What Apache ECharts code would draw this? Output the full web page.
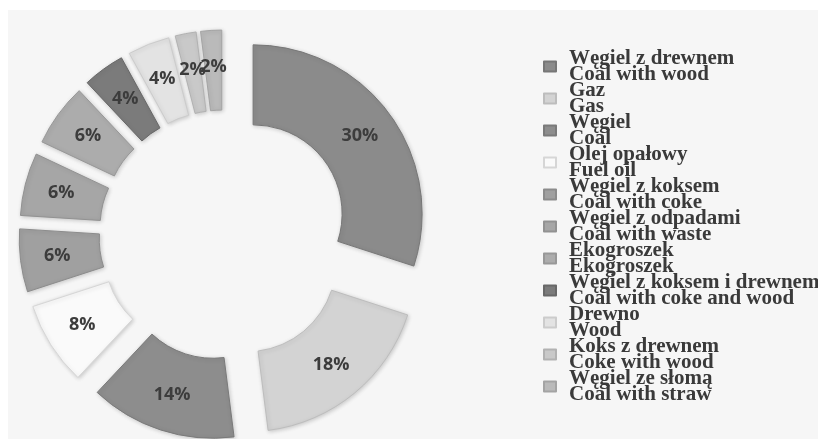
<!DOCTYPE html>
<html>
<head>
<meta charset="utf-8">
<script src="https://cdn.jsdelivr.net/npm/echarts@6/dist/echarts.min.js"></script>
<style>
html,body{margin:0;padding:0;background:#ffffff;}
#chart{width:818px;height:439px;}
</style>
</head>
<body>
<div id="chart"></div>
<script>
const categories = ['Węgiel z drewnem','Gaz','Węgiel','Olej opałowy','Węgiel z koksem','Węgiel z odpadami','Ekogroszek','Węgiel z koksem i drewnem','Drewno','Koks z drewnem','Węgiel ze słomą'];
const englishNames = ['Coal with wood','Gas','Coal','Fuel oil','Coal with coke','Coal with waste','Ekogroszek','Coal with coke and wood','Wood','Coke with wood','Coal with straw'];
const shares = [30, 18, 14, 8, 6, 6, 6, 4, 4, 2, 2];
const colors = ['#8b8b8b','#d3d3d3','#8d8d8d','#fafafa','#a0a0a0','#a6a6a6','#acacac','#7b7b7b','#e3e3e3','#c9c9c9','#bababa'];
const borders = ['#777777','#bdbdbd','#7a7a7a','#d6d6d6','#8c8c8c','#929292','#989898','#686868','#cccccc','#b2b2b2','#a4a4a4'];

const english = {};
categories.forEach((c, i) => { english[c] = englishNames[i]; });

const chart = echarts.init(document.getElementById('chart'));
chart.setOption({
  animation: false,
  backgroundColor: '#ffffff',
  graphic: [{
    type: 'rect', silent: true, z: -10,
    shape: { x: 8, y: 10, width: 810, height: 429 },
    style: { fill: '#f6f6f6' }
  }],
  legend: {
    orient: 'vertical',
    left: 543,
    top: 48,
    height: 390,
    padding: 0,
    itemWidth: 12,
    itemHeight: 10,
    itemGap: -5,
    icon: 'rect',
    selectedMode: false,
    data: categories,
    formatter: name => '{t|' + name + '}\n{t|' + english[name] + '}',
    textStyle: {
      padding: [0, 0, 0, 8],
      rich: {
        t: {
          fontFamily: 'Liberation Serif',
          fontWeight: 'bold',
          fontSize: 21,
          lineHeight: 16,
          color: '#3a3a3a'
        }
      }
    }
  },
  series: [{
    type: 'pie',
    center: [224, 235],
    radius: [89, 169],
    startAngle: 90,
    clockwise: true,
    selectedMode: 'multiple',
    selectedOffset: 36,
    avoidLabelOverlap: false,
    emphasis: { disabled: true },
    labelLayout: { hideOverlap: false },
    label: {
      show: true,
      position: 'inside',
      formatter: '{c}%',
      fontFamily: 'Open Sans',
      fontWeight: 'bold',
      fontSize: 18,
      color: '#3c3c3c'
    },
    labelLine: { show: false },
    data: categories.map((c, i) => ({
      name: c,
      value: shares[i],
      selected: true,
      itemStyle: {
        color: colors[i],
        borderColor: borders[i],
        borderWidth: 1,
        shadowColor: 'rgba(0,0,0,0.18)',
        shadowBlur: 4,
        shadowOffsetX: 1,
        shadowOffsetY: 1
      }
    }))
  }]
});
</script>
</body>
</html>
